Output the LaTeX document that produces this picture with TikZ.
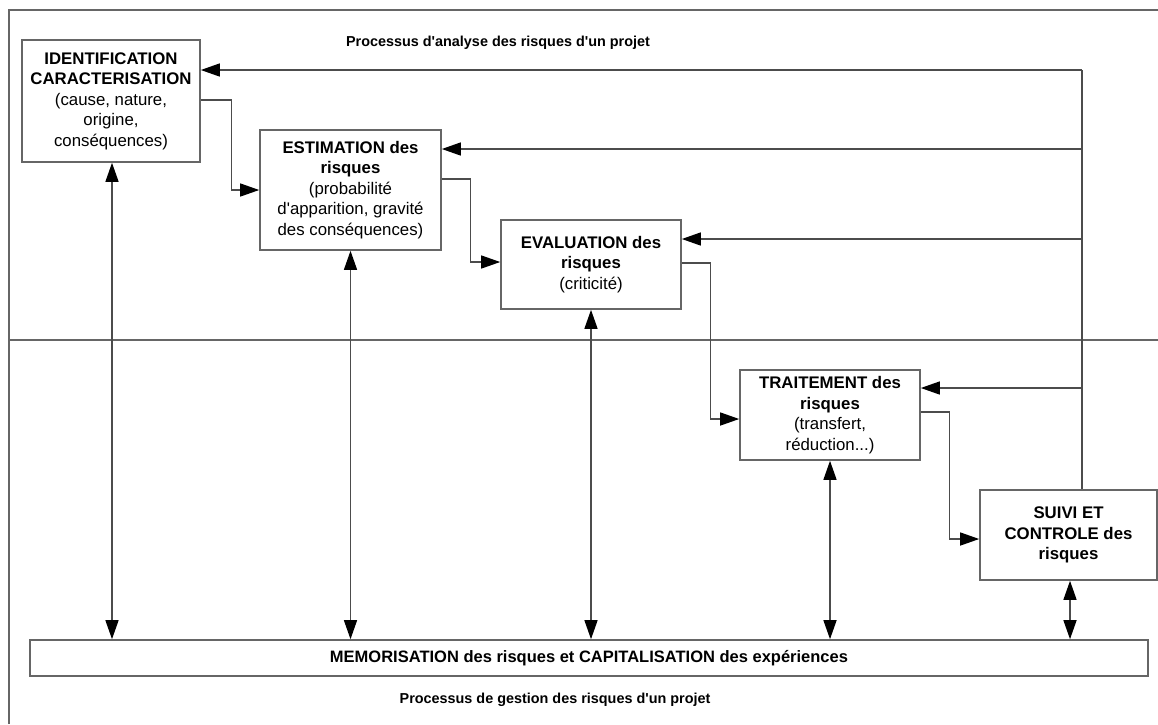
\documentclass[tikz,border=0pt]{standalone}
\usepackage{fontspec}
\setmainfont{Liberation Sans}[Ligatures=TeXOff]
\usetikzlibrary{arrows.meta}
\begin{document}
\begin{tikzpicture}[x=1pt,y=-1pt,
  frameline/.style={draw=black!60,line width=1.2pt},
  boxnode/.style={draw=black!60,line width=1.6pt,fill=white,align=center,inner sep=0pt,
    font=\fontsize{16.8}{20.5}\selectfont},
  conn/.style={draw=black!70,line width=1.3pt},
  tip/.style={},
  arr/.style={conn,-{Triangle[length=19pt,width=13pt,color=black,fill=black]}},
  dbl/.style={conn,{Triangle[length=19pt,width=13pt,color=black,fill=black]}-{Triangle[length=19pt,width=13pt,color=black,fill=black]}},
  titlenode/.style={font=\fontsize{14.4}{17}\selectfont\bfseries,inner sep=0pt}
]
\useasboundingbox (0,0) rectangle (1158,724);
% frame
\draw[frameline] (9,724) -- (9,10) -- (1158,10);
\draw[frameline] (9,340) -- (1158,340);
% titles
\node[titlenode] (t1) at (498,43) {Processus d'analyse des risques d'un projet};
\node[titlenode] (t2) at (555,700) {Processus de gestion des risques d'un projet};
% boxes
\node[boxnode,minimum width=178pt,minimum height=122pt] (ident) at (111,101)
  {\textbf{IDENTIFICATION}\\\textbf{CARACTERISATION}\\(cause, nature,\\origine,\\conséquences)};
\node[boxnode,minimum width=181pt,minimum height=120pt] (estim) at (350.5,190)
  {\textbf{ESTIMATION des}\\\textbf{risques}\\(probabilité\\d'apparition, gravité\\des conséquences)};
\node[boxnode,minimum width=180pt,minimum height=89pt] (eval) at (591,264.5)
  {\textbf{EVALUATION des}\\\textbf{risques}\\(criticité)};
\node[boxnode,minimum width=180pt,minimum height=90pt] (trait) at (830,415)
  {\textbf{TRAITEMENT des}\\\textbf{risques}\\(transfert,\\réduction...)};
\node[boxnode,minimum width=177pt,minimum height=90pt] (suivi) at (1068.5,535)
  {\textbf{SUIVI ET}\\\textbf{CONTROLE des}\\\textbf{risques}};
\node[boxnode,minimum width=1118pt,minimum height=36pt,font=\fontsize{16.5}{20}\selectfont\bfseries] (mem) at (589,658)
  {MEMORISATION des risques et CAPITALISATION des expériences};
% forward connectors
\draw[arr] ([yshift=1pt]ident.east) -- ++(31,0) |- (estim.west);
\draw[arr] ([yshift=11pt]estim.east) -- ++(29,0) |- ([yshift=2.5pt]eval.west);
\draw[arr] ([yshift=1.5pt]eval.east) -- ++(29,0) |- ([yshift=-4pt]trait.west);
\draw[arr] ([yshift=3pt]trait.east) -- ++(29,0) |- ([yshift=-4pt]suivi.west);
% feedback
\coordinate (fb1) at (1082,70);
\coordinate (fb2) at (1082,149);
\coordinate (fb3) at (1082,239);
\coordinate (fb4) at (1082,388);
\draw[conn] (suivi.north -| fb1) -- (fb1);
\draw[arr] (fb1) -- (fb1 -| ident.east);
\draw[arr] (fb2) -- (fb2 -| estim.east);
\draw[arr] (fb3) -- (fb3 -| eval.east);
\draw[arr] (fb4) -- (fb4 -| trait.east);
% memorisation links
\draw[dbl] ([xshift=1pt]ident.south) -- ([xshift=1pt]ident.south |- mem.north);
\draw[dbl] (estim.south) -- (estim.south |- mem.north);
\draw[dbl] (eval.south) -- (eval.south |- mem.north);
\draw[dbl] (trait.south) -- (trait.south |- mem.north);
\draw[dbl] ([xshift=1.5pt]suivi.south) -- ([xshift=1.5pt]suivi.south |- mem.north);
\end{tikzpicture}
\end{document}
